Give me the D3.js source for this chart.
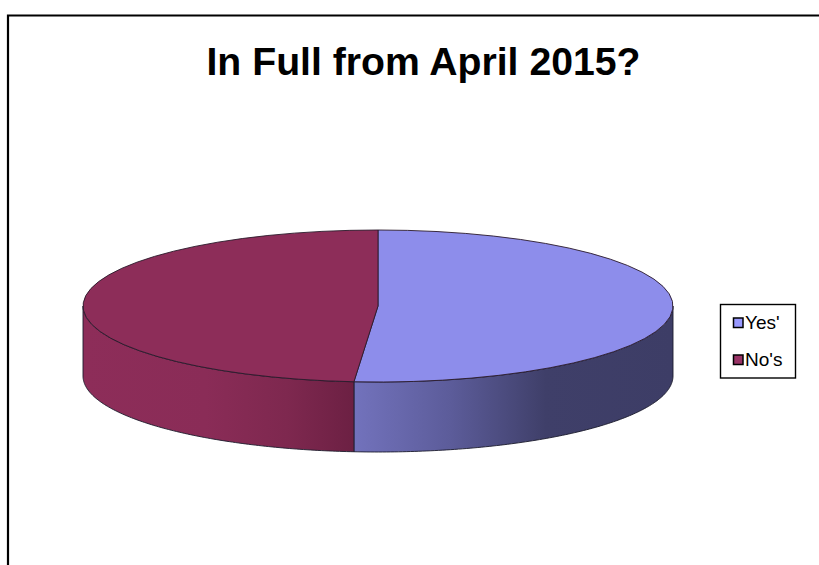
<!DOCTYPE html>
<html><head><meta charset="utf-8">
<script src="https://cdn.jsdelivr.net/npm/d3@7"></script>
<style>html,body{margin:0;padding:0;background:#fff}svg{display:block}text{font-family:"Liberation Sans",Arial,sans-serif;fill:#000}</style>
</head><body><div id="c"></div>
<script>
const categories = ["Yes'", "No's"];
const values = [51.3, 48.7];
const topColors = ["#8D8DEB", "#8D2D59"];
const titleText = "In Full from April 2015?";

const W = 819, H = 565;
const cx = 378, cy = 306, rx = 295, ry = 76, depth = 70;
const svg = d3.select("#c").append("svg").attr("width", W).attr("height", H);

// frame (runs off the right and bottom of the picture)
svg.append("path").attr("d", `M8,${H}V15.5H${W}`).attr("fill", "none").attr("stroke", "#000").attr("stroke-width", 2.2);

svg.append("text").attr("x", 423.5).attr("y", 75).attr("text-anchor", "middle")
  .attr("font-size", 39.2).attr("font-weight", "bold").text(titleText);

const defs = svg.append("defs");
const sideStops = [
  [[0, "#8D2D59"], [0.45, "#8A2C57"], [0.75, "#7E284F"], [1, "#6C2043"]],
  [[0, "#7272BC"], [0.3, "#5C5C9A"], [0.6, "#3F3F69"], [1, "#3D3D66"]]
];
const sideRanges = [[cx - rx, 355], [355, cx + rx]];
["gNo", "gYes"].forEach((id, i) => {
  const g = defs.append("linearGradient").attr("id", id).attr("gradientUnits", "userSpaceOnUse")
    .attr("x1", sideRanges[i][0]).attr("x2", sideRanges[i][1]).attr("y1", 0).attr("y2", 0);
  sideStops[i].forEach(s => g.append("stop").attr("offset", s[0]).attr("stop-color", s[1]));
});

const arcs = d3.pie().sort(null).value(d => d)(values);
const px = a => cx + rx * Math.sin(a);
const py = a => cy - ry * Math.cos(a);

// side walls: only the front half of the rim (angles between PI/2 and 3PI/2)
const rim = d3.area().x(a => px(a)).y0(a => py(a)).y1(a => py(a) + depth);
arcs.forEach((d, i) => {
  const a0 = Math.max(d.startAngle, Math.PI / 2), a1 = Math.min(d.endAngle, 3 * Math.PI / 2);
  const angles = d3.range(121).map(k => a0 + (a1 - a0) * k / 120);
  svg.append("path").attr("d", rim(angles))
    .attr("fill", i === 0 ? "url(#gYes)" : "url(#gNo)")
    .attr("stroke", "#1c1c2c").attr("stroke-width", 0.9).attr("stroke-linejoin", "round");
});

// top face
const arc = d3.arc().innerRadius(0).outerRadius(rx);
const topFace = svg.append("g").attr("transform", `translate(${cx},${cy}) scale(1,${ry / rx})`);
topFace.selectAll("path").data(arcs).join("path").attr("d", arc)
  .attr("fill", (d, i) => topColors[i])
  .attr("stroke", "#2a1a2a").attr("stroke-width", 0.9)
  .attr("vector-effect", "non-scaling-stroke");

// legend
svg.append("rect").attr("x", 720.5).attr("y", 304.5).attr("width", 75).attr("height", 73.5)
  .attr("fill", "#fff").attr("stroke", "#000").attr("stroke-width", 1.4);
const legendY = d3.scalePoint().domain(categories).range([322.5, 359.5]);
const item = svg.selectAll(".lg").data(categories).join("g").attr("class", "lg")
  .attr("transform", d => `translate(0,${legendY(d)})`);
item.append("rect").attr("x", 733.5).attr("y", -4.5).attr("width", 9.5).attr("height", 9.5)
  .attr("fill", (d, i) => ["#9999FF", "#993366"][i]).attr("stroke", "#000").attr("stroke-width", 1.5);
item.append("text").attr("x", 745).attr("y", 6).attr("font-size", 19).text(d => d);
</script></body></html>
